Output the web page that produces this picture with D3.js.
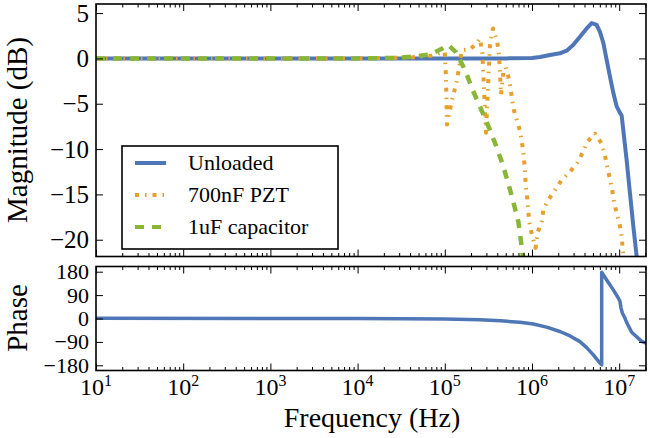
<!DOCTYPE html>
<html><head><meta charset="utf-8">
<script src="https://cdn.jsdelivr.net/npm/d3@7"></script>
<style>html,body{margin:0;padding:0;background:#fff}svg{display:block}</style>
</head><body>
<svg id="c" width="650" height="438"></svg>
<script>
// ---------- data ----------
const seriesNames = ["Unloaded", "700nF PZT", "1uF capacitor"];

const unloadedFreq = [10, 1e4, 1e5, 5e5, 1e6, 1.24e6, 1.61e6, 2.09e6, 2.5e6, 2.98e6, 3.55e6, 4.24e6, 4.84e6, 5.52e6, 6.03e6, 6.58e6, 7.19e6, 7.84e6, 8.56e6, 9.36e6, 1.021e7, 1.067e7, 1.114e7, 1.217e7, 1.33e7, 1.452e7, 1.585e7, 1.73e7];
const unloadedMag  = [0, 0, 0, 0, 0.05, 0.15, 0.37, 0.56, 0.85, 1.5, 2.4, 3.3, 3.9, 3.7, 2.9, 1.7, -0.2, -2.0, -3.8, -5.3, -6.0, -6.3, -7.9, -11.2, -14.9, -18.5, -21.8, -25.5];

const pztFreq = [10, 1e4, 4e4, 7e4, 8.8e4, 1.0e5, 1.03e5, 1.06e5, 1.21e5, 1.38e5, 1.5e5, 1.57e5, 1.94e5, 2.3e5, 2.53e5, 2.7e5, 2.97e5, 3.15e5, 3.3e5, 3.57e5, 3.97e5, 4.2e5, 4.41e5, 4.7e5, 5.0e5, 5.3e5, 5.6e5, 6.2e5, 7.28e5, 7.94e5, 8.25e5, 8.5e5, 8.81e5, 9.05e5, 9.29e5, 9.9e5, 1.054e6, 1.1e6, 1.17e6, 1.29e6, 1.35e6, 1.54e6, 1.84e6, 2.19e6, 2.73e6, 3.31e6, 3.81e6, 4.31e6, 5.28e6, 6.3e6, 6.87e6, 7.31e6, 7.84e6, 8.34e6, 8.71e6, 9.36e6, 1.021e7, 1.067e7, 1.094e7, 1.15e7];
const pztMag  = [0, 0, 0.1, 0.3, 0.6, 0.7, -2, -7.3, -4.6, -2.4, -0.2, 0.9, 1.0, 1.6, 2.2, 0.5, -8.2, -2.5, 1.5, 3.3, 2.0, 0.3, -4.0, -1.5, -1.0, -1.8, -3.0, -5.7, -8.0, -10.2, -12.0, -14.1, -15.4, -16.7, -18.0, -19.3, -20.3, -20.9, -19.1, -18.0, -16.7, -15.6, -14.5, -13.4, -12.5, -11.5, -10.4, -9.2, -8.3, -9.4, -10.7, -12.0, -13.3, -14.6, -15.8, -17.1, -18.5, -19.6, -20.8, -23];

const capFreq = [10, 1e4, 2.7e4, 4.5e4, 6.8e4, 9e4, 1.09e5, 1.34e5, 1.71e5, 2.09e5, 2.58e5, 3.2e5, 3.86e5, 4.61e5, 5.35e5, 6.1e5, 6.97e5, 7.48e5, 8.0e5];
const capMag  = [0, 0, 0.05, 0.2, 0.45, 1.0, 1.5, 0.7, -1.3, -3.5, -5.5, -7.6, -9.6, -11.7, -13.8, -15.8, -18.0, -20.2, -22.5];

const phaseFreq = [10, 1e3, 1e4, 1e5, 2.5e5, 4.4e5, 7.28e5, 1.035e6, 1.47e6, 2.09e6, 2.73e6, 3.55e6, 4.24e6, 5.05e6, 6.03e6, 6.3e6, 6.3e6, 7.19e6, 8.56e6, 9.77e6, 1.02e7, 1.05e7, 1.09e7, 1.15e7, 1.217e7, 1.39e7, 1.81e7, 2.1e7];
const phaseDeg  = [0.5, 0, -0.2, -2, -5, -9, -14.6, -21, -33, -50, -67, -89, -112, -140, -172, -178, 178, 148, 110, 79, 66, 40, 20, 5, -15, -53, -88, -97];

const magTicks = [5, 0, -5, -10, -15, -20];
const phaseTicks = [180, 90, 0, -90, -180];
const freqDecades = [1, 2, 3, 4, 5, 6, 7];

// ---------- layout ----------
const FONT = "'Liberation Serif', 'DejaVu Serif', serif";
const left = 96, right = 646;
const top1 = 4, bot1 = 256.5;
const top2 = 266.5, bot2 = 370.5;
const colors = ["#4f76b6", "#e8a02c", "#8ab637"];

const svg = d3.select("#c");
const x = d3.scaleLog().domain([10, 2.03e7]).range([left, right]);
const yM = d3.scaleLinear().domain([-21.85, 6]).range([bot1, top1]);
const yP = d3.scaleLinear().domain([-200, 200]).range([bot2, top2]);

const minorVals = [];
for (let e = 1; e <= 7; e++) for (let m = 2; m <= 9; m++) { const v = m * Math.pow(10, e); if (v < 2.03e7) minorVals.push(v); }
const majorVals = freqDecades.map(d => Math.pow(10, d));

const defs = svg.append("defs");
defs.append("clipPath").attr("id", "clip1").append("rect").attr("x", left).attr("y", top1).attr("width", right - left).attr("height", bot1 - top1);
defs.append("clipPath").attr("id", "clip2").append("rect").attr("x", left).attr("y", top2).attr("width", right - left).attr("height", bot2 - top2);

function lineOf(fr, vals, ys) {
  return d3.line().x((d, i) => x(fr[i])).y((d, i) => ys(vals[i]))(vals);
}

// magnitude curves
const g1 = svg.append("g").attr("clip-path", "url(#clip1)");
g1.append("path").attr("d", lineOf(unloadedFreq, unloadedMag, yM)).attr("fill", "none").attr("stroke", colors[0]).attr("stroke-width", 4).attr("stroke-linejoin", "round");
g1.append("path").attr("d", lineOf(pztFreq, pztMag, yM)).attr("fill", "none").attr("stroke", colors[1]).attr("stroke-width", 4).attr("stroke-linejoin", "round").attr("stroke-dasharray", "4,6,1.5,6");
g1.append("path").attr("d", lineOf(capFreq, capMag, yM)).attr("fill", "none").attr("stroke", colors[2]).attr("stroke-width", 4.5).attr("stroke-linejoin", "round").attr("stroke-dasharray", "9,8");

// phase curve
const g2 = svg.append("g").attr("clip-path", "url(#clip2)");
g2.append("path").attr("d", lineOf(phaseFreq, phaseDeg, yP)).attr("fill", "none").attr("stroke", colors[0]).attr("stroke-width", 3.5).attr("stroke-linejoin", "round");

// axes helper
function styleAxis(g) {
  g.select(".domain").remove();
  g.selectAll("line").attr("stroke", "#000").attr("stroke-width", 1);
  g.selectAll("text").attr("font-family", FONT).attr("fill", "#000");
}
function frame(t, b, yScale, ticks, fmt, fontSize) {
  svg.append("g").attr("transform", `translate(0,${b})`).call(d3.axisBottom(x).tickValues(majorVals).tickSize(-7).tickFormat("")).call(styleAxis);
  svg.append("g").attr("transform", `translate(0,${b})`).call(d3.axisBottom(x).tickValues(minorVals).tickSize(-3.5).tickFormat("")).call(styleAxis);
  svg.append("g").attr("transform", `translate(0,${t})`).call(d3.axisTop(x).tickValues(majorVals).tickSize(-7).tickFormat("")).call(styleAxis);
  svg.append("g").attr("transform", `translate(0,${t})`).call(d3.axisTop(x).tickValues(minorVals).tickSize(-3.5).tickFormat("")).call(styleAxis);
  const la = svg.append("g").attr("transform", `translate(${left},0)`).call(d3.axisLeft(yScale).tickValues(ticks).tickSize(-7).tickPadding(7).tickFormat(fmt)).call(styleAxis);
  la.selectAll("text").attr("font-size", fontSize);
  svg.append("g").attr("transform", `translate(${right},0)`).call(d3.axisRight(yScale).tickValues(ticks).tickSize(-7).tickFormat("")).call(styleAxis);
  svg.append("rect").attr("x", left).attr("y", t).attr("width", right - left).attr("height", b - t).attr("fill", "none").attr("stroke", "#000").attr("stroke-width", 1.6);
}
const minusFmt = d => (d < 0 ? "\u2212" + Math.abs(d) : String(d));
frame(top1, bot1, yM, magTicks, minusFmt, 25);
frame(top2, bot2, yP, phaseTicks, minusFmt, 22);

// x tick labels 10^n
const xl = svg.append("g");
freqDecades.forEach(d => {
  const t = xl.append("text").attr("x", x(Math.pow(10, d))).attr("y", 395).attr("text-anchor", "middle").attr("font-family", FONT).attr("font-size", 24);
  t.append("tspan").text("10");
  t.append("tspan").attr("dy", -9).attr("font-size", 16).text(d);
});

// axis titles
svg.append("text").attr("x", 372).attr("y", 427).attr("text-anchor", "middle").attr("font-family", FONT).attr("font-size", 28).text("Frequency (Hz)");
svg.append("text").attr("transform", "translate(27,130) rotate(-90)").attr("text-anchor", "middle").attr("font-family", FONT).attr("font-size", 29).text("Magnitude (dB)");
svg.append("text").attr("transform", "translate(27,318) rotate(-90)").attr("text-anchor", "middle").attr("font-family", FONT).attr("font-size", 29).text("Phase");

// legend
const lg = svg.append("g");
lg.append("rect").attr("x", 122).attr("y", 146).attr("width", 216).attr("height", 103).attr("fill", "#fff").attr("stroke", "#000").attr("stroke-width", 1.6);
const dashes = [null, "4,6,1.5,6", "9,8"];
seriesNames.forEach((n, i) => {
  const yy = 163 + i * 32;
  lg.append("line").attr("x1", 135).attr("x2", 166).attr("y1", yy).attr("y2", yy).attr("stroke", colors[i]).attr("stroke-width", 4).attr("stroke-dasharray", dashes[i]);
  lg.append("text").attr("x", 188).attr("y", yy + 7).attr("font-family", FONT).attr("font-size", 22).text(n);
});
</script>
</body></html>
